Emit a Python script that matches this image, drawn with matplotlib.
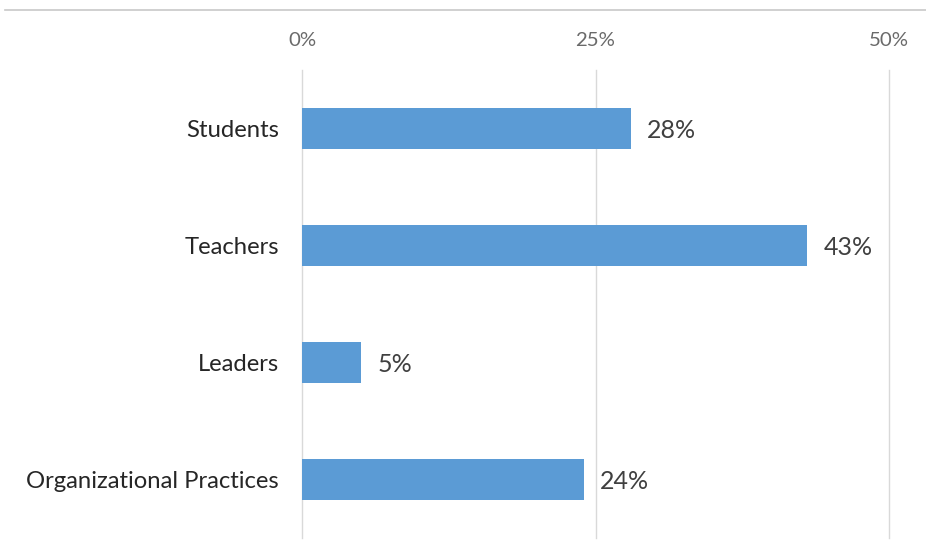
import matplotlib
matplotlib.use("Agg")
import matplotlib.pyplot as plt
from matplotlib.lines import Line2D

categories = ["Students", "Teachers", "Leaders", "Organizational Practices"]
values = [28, 43, 5, 24]
xticks = [0, 25, 50]
xtick_labels = ["0%", "25%", "50%"]

plt.rcParams['font.family'] = ['Lato', 'DejaVu Sans']

W, H = 926, 558
fig = plt.figure(figsize=(W / 100, H / 100), dpi=100)
ax = fig.add_axes([302 / W, 1 - 538 / H, (889 - 302) / W, (538 - 70) / H])

y = list(range(len(categories)))
ax.barh(y, values, height=0.35, color="#5B9BD5", zorder=3)
for yi, v in zip(y, values):
    ax.text(v + 1.4, yi + 0.02, f"{v}%", va="center", ha="left", fontsize=18, color="#404040")

ax.set_xlim(0, 50)
ax.set_ylim(len(categories) - 0.5, -0.5)
ax.set_yticks(y)
ax.set_yticklabels(categories, fontsize=17.2, color="#262626")
ax.set_xticks(xticks)
ax.set_xticklabels(xtick_labels, fontsize=14.7, color="#6A6A6A")
ax.xaxis.tick_top()
ax.tick_params(axis="both", length=0)
ax.tick_params(axis="x", pad=15)
ax.tick_params(axis="y", pad=16.5)
for xv in xticks:
    ax.axvline(xv, color="#D9D9D9", linewidth=1, zorder=0, clip_on=False)
for s in ax.spines.values():
    s.set_visible(False)

fig.add_artist(Line2D([5 / W, 1], [1 - 10 / H, 1 - 10 / H], color="#C8C8C8", linewidth=1.2))

fig.savefig("out.png", dpi=100)
